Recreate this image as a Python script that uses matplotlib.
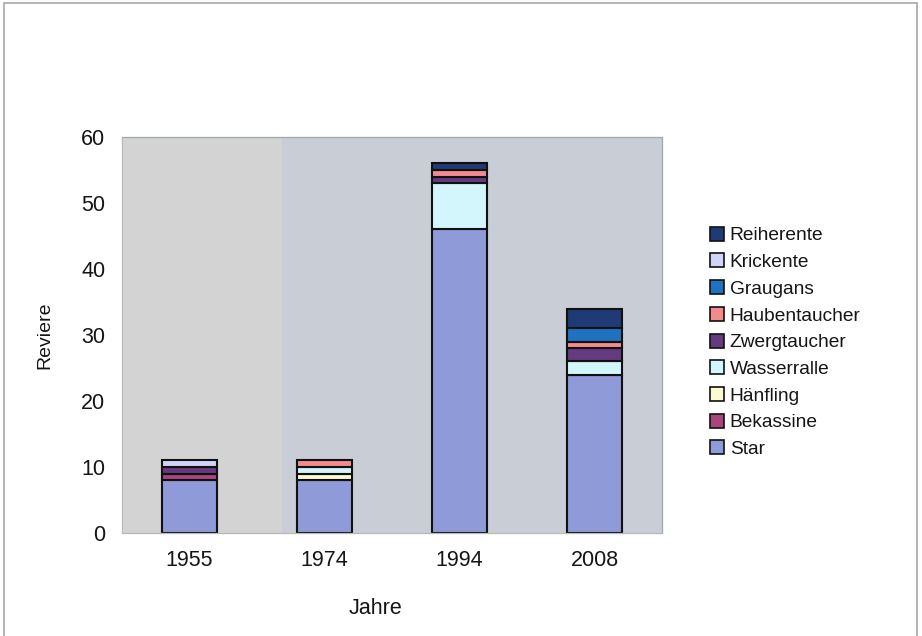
import matplotlib.pyplot as plt
import matplotlib.patches as mpatches
import numpy as np

plt.rcParams['font.family'] = ['Liberation Sans', 'DejaVu Sans']

years = ['1955', '1974', '1994', '2008']
species = ['Star', 'Bekassine', 'Hänfling', 'Wasserralle', 'Zwergtaucher',
           'Haubentaucher', 'Graugans', 'Krickente', 'Reiherente']
star = [8, 8, 46, 24]
bekassine = [1, 0, 0, 0]
haenfling = [0, 1, 0, 0]
wasserralle = [0, 1, 7, 2]
zwergtaucher = [1, 0, 1, 2]
haubentaucher = [0, 1, 1, 1]
graugans = [0, 0, 0, 2]
krickente = [1, 0, 0, 0]
reiherente = [0, 0, 1, 3]
series = [star, bekassine, haenfling, wasserralle, zwergtaucher,
          haubentaucher, graugans, krickente, reiherente]
colors = ['#8f9ad8', '#a8467a', '#fbfbd2', '#d2f6fb', '#653a7e',
          '#f48a8e', '#1f72c0', '#d0d4f6', '#1f3a74']

fig = plt.figure(figsize=(9.22, 6.36), dpi=100)
fig.patches.append(mpatches.Rectangle((0.004, -0.01), 0.991, 1.005, transform=fig.transFigure,
                                      fill=False, edgecolor='#a8a8a8', lw=1.2))
ax = fig.add_axes([122 / 922, 1 - 533 / 636, 540 / 922, 396 / 636])
ax.set_facecolor('#c9cdd5')

# lighter band behind the first column
ax.add_patch(mpatches.Rectangle((0, 0), 160 / 540, 1, transform=ax.transAxes,
                                facecolor='#d3d3d4', edgecolor='none', zorder=0.5))

x = np.arange(len(years))
bottom = np.zeros(len(years))
handles = []
for name, vals, c in zip(species, series, colors):
    vals = np.array(vals, dtype=float)
    mask = vals > 0
    ax.bar(x[mask], vals[mask], 0.41, bottom=bottom[mask], color=c,
           edgecolor='#111111', linewidth=1.5, zorder=2)
    handles.append(mpatches.Patch(facecolor=c, edgecolor='#111111', linewidth=1.2, label=name))
    bottom += vals

ax.set_xlim(-0.5, 3.5)
ax.set_ylim(0, 60)
ax.set_yticks(range(0, 61, 10))
ax.set_xticks(x)
ax.set_xticklabels(years)
ax.tick_params(length=0, labelsize=15.5, colors='#151515')
ax.tick_params(axis='x', pad=12)
ax.tick_params(axis='y', pad=12)
for s in ax.spines.values():
    s.set_color('#9eaaa8')
    s.set_linewidth(0.9)
ax.spines['left'].set_color('#b8b8b8')
ax.spines['bottom'].set_color('#b8b8b8')

ax.set_ylabel('Reviere', fontsize=14, labelpad=20, color='#151515')
ax.set_xlabel('Jahre', fontsize=15.5, labelpad=18, color='#151515')
ax.xaxis.set_label_coords(0.47, -0.165)

leg = fig.legend(handles=handles[::-1], loc='upper left', bbox_to_anchor=(702 / 922, 1 - 219 / 636),
                 frameon=False, fontsize=13.8, handlelength=0.75, handleheight=0.75,
                 handletextpad=0.3, labelspacing=0.47, borderaxespad=0)
for t in leg.get_texts():
    t.set_color('#151515')

fig.savefig('out.png', dpi=100)
